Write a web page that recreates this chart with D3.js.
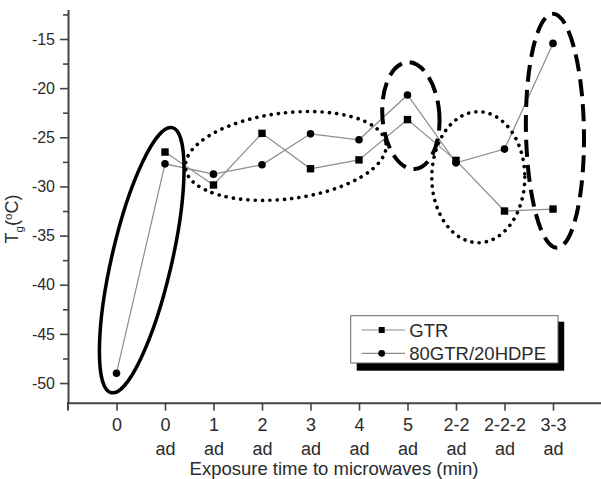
<!DOCTYPE html>
<html lang="en">
<head>
<meta charset="UTF-8">
<title>Tg vs exposure time</title>
<script src="https://d3js.org/d3.v7.min.js"></script>
<style>
  body { margin: 0; background: #fff; }
  svg { display: block; font-family: "Liberation Sans", Arial, sans-serif; }
</style>
</head>
<body>
<svg id="chart" width="601" height="479"></svg>
<script>
// categories on the x axis (two-line labels, split on the space)
var categories = ["0", "0 ad", "1 ad", "2 ad", "3 ad", "4 ad", "5 ad", "2-2 ad", "2-2-2 ad", "3-3 ad"];
// Tg values
var gtrTg   = [null, -26.5, -29.85, -24.6, -28.2, -27.3, -23.2, -27.35, -32.5, -32.3];
var blendTg = [-49.0, -27.7, -28.75, -27.8, -24.65, -25.25, -20.7, -27.6, -26.2, -15.45];
var seriesNames = ["GTR", "80GTR/20HDPE"];
var yMajorTicks = [-50, -45, -40, -35, -30, -25, -20, -15];
var yMinorTicks = [-47.5, -42.5, -37.5, -32.5, -27.5, -22.5, -17.5, -12.5];

// highlight rings: centre in category index / Tg units
var rings = [
  {at: 0.52, tg: -37.5,  rx: 30,   ry: 136,  angle: 13, kind: "solid"},
  {at: 3.49, tg: -26.9,  rx: 101,  ry: 43,   angle: -7, kind: "dotted"},
  {at: 6.07, tg: -22.8,  rx: 28.5, ry: 53.5, angle: -4, kind: "dashed"},
  {at: 7.46, tg: -29.06, rx: 46.5, ry: 65.5, angle: 0,  kind: "dotted"},
  {at: 9.04, tg: -24.34, rx: 29,   ry: 117,  angle: -1, kind: "dashed"}
];

var svg = d3.select("#chart");
var axisColor = "#444";
var textColor = "#2b2b2b";

var x = d3.scalePoint().domain(categories).range([68, 601.5]).padding(1);
var y = d3.scaleLinear().domain([-52, -12]).range([402.7, 9.5]);
var xi = function(i) { return x(categories[0]) + i * x.step(); };

// y axis (plain hyphen for the minus sign, like the original)
var gy = svg.append("g").attr("transform", "translate(68,0)");
gy.call(d3.axisLeft(y).tickValues(yMajorTicks).tickSize(8).tickSizeOuter(0).tickPadding(5)
  .tickFormat(function(d) { return String(d); }));
gy.append("g").call(d3.axisLeft(y).tickValues(yMinorTicks).tickSize(5).tickSizeOuter(0).tickFormat(""))
  .select(".domain").remove();
gy.selectAll(".domain").attr("stroke", axisColor).attr("stroke-width", 2);
gy.selectAll(".tick line").attr("stroke", axisColor).attr("stroke-width", 1.6);
gy.selectAll(".tick text").attr("fill", textColor).attr("font-size", "16px")
  .attr("font-family", "Liberation Sans, Arial, sans-serif");
svg.append("line").attr("x1", 68).attr("x2", 68).attr("y1", 402).attr("y2", 410.5)
  .attr("stroke", axisColor).attr("stroke-width", 2);

// x axis
var gx = svg.append("g").attr("transform", "translate(0,402.7)");
gx.call(d3.axisBottom(x).tickSize(8).tickSizeOuter(0).tickFormat(""));
gx.selectAll(".domain").attr("stroke", axisColor).attr("stroke-width", 2);
gx.selectAll(".tick line").attr("stroke", axisColor).attr("stroke-width", 1.6);
gx.selectAll(".tick").each(function(d) {
  var parts = d.split(" ");
  var t = d3.select(this).append("text").attr("fill", textColor)
    .attr("font-size", "18px").attr("text-anchor", "middle")
    .attr("font-family", "Liberation Sans, Arial, sans-serif");
  parts.forEach(function(p, k) {
    t.append("tspan").attr("x", 0).attr("y", k === 0 ? 28.5 : 52.5).text(p);
  });
});

// axis titles
svg.append("text")
  .attr("x", 334).attr("y", 475)
  .attr("text-anchor", "middle").attr("font-size", "18.5px").attr("fill", textColor)
  .text("Exposure time to microwaves (min)");

var yt = svg.append("text")
  .attr("transform", "translate(18,219) rotate(-90)")
  .attr("text-anchor", "middle").attr("font-size", "18px").attr("fill", textColor);
yt.append("tspan").text("T");
yt.append("tspan").attr("font-size", "11.5px").attr("dy", 5).text("g");
yt.append("tspan").attr("dy", -5).text("(");
yt.append("tspan").attr("font-size", "11.5px").attr("dy", -6).text("o");
yt.append("tspan").attr("dy", 6).text("C)");

// series lines
var line = d3.line()
  .defined(function(d) { return d != null; })
  .x(function(d, i) { return x(categories[i]); })
  .y(function(d) { return y(d); });

[gtrTg, blendTg].forEach(function(s) {
  svg.append("path").datum(s)
    .attr("fill", "none").attr("stroke", "#8c8c8c").attr("stroke-width", 1.2)
    .attr("d", line);
});

// rings
rings.forEach(function(r) {
  var e = svg.append("ellipse")
    .attr("transform", "translate(" + xi(r.at) + "," + y(r.tg) + ") rotate(" + r.angle + ")")
    .attr("rx", r.rx).attr("ry", r.ry)
    .attr("fill", "none").attr("stroke", "#000");
  if (r.kind === "solid") e.attr("stroke-width", 3.5);
  if (r.kind === "dotted") e.attr("stroke-width", 3.6).attr("stroke-dasharray", "0.1 7.2").attr("stroke-linecap", "round");
  if (r.kind === "dashed") e.attr("stroke-width", 4).attr("stroke-dasharray", "17 8");
});

// markers
var gtrPts = gtrTg.map(function(v, i) { return {i: i, v: v}; }).filter(function(d) { return d.v != null; });
var blendPts = blendTg.map(function(v, i) { return {i: i, v: v}; });

svg.selectAll(".sq").data(gtrPts).enter().append("rect")
  .attr("class", "sq")
  .attr("x", function(d) { return x(categories[d.i]) - 3.7; })
  .attr("y", function(d) { return y(d.v) - 3.7; })
  .attr("width", 7.4).attr("height", 7.4).attr("fill", "#000");

svg.selectAll(".ci").data(blendPts).enter().append("circle")
  .attr("class", "ci")
  .attr("cx", function(d) { return x(categories[d.i]); })
  .attr("cy", function(d) { return y(d.v); })
  .attr("r", 3.8).attr("fill", "#000");

// legend
var lg = svg.append("g");
lg.append("rect").attr("x", 356.7).attr("y", 321.7).attr("width", 207.5).attr("height", 49).attr("fill", "#000");
lg.append("rect").attr("x", 350.7).attr("y", 315.7).attr("width", 207.3).attr("height", 47.3)
  .attr("fill", "#fff").attr("stroke", "#666").attr("stroke-width", 1);
seriesNames.forEach(function(name, k) {
  var cy = 330 + k * 23.3;
  lg.append("line").attr("x1", 361.7).attr("x2", 405).attr("y1", cy).attr("y2", cy)
    .attr("stroke", "#8c8c8c").attr("stroke-width", 1.2);
  if (k === 0) {
    lg.append("rect").attr("x", 381.7 - 3).attr("y", cy - 3).attr("width", 6).attr("height", 6).attr("fill", "#000");
  } else {
    lg.append("circle").attr("cx", 381.7).attr("cy", cy).attr("r", 3.4).attr("fill", "#000");
  }
  lg.append("text").attr("x", 409.3).attr("y", cy + 6.5)
    .attr("font-size", "18.5px").attr("fill", textColor).text(name);
});
</script>
</body>
</html>
